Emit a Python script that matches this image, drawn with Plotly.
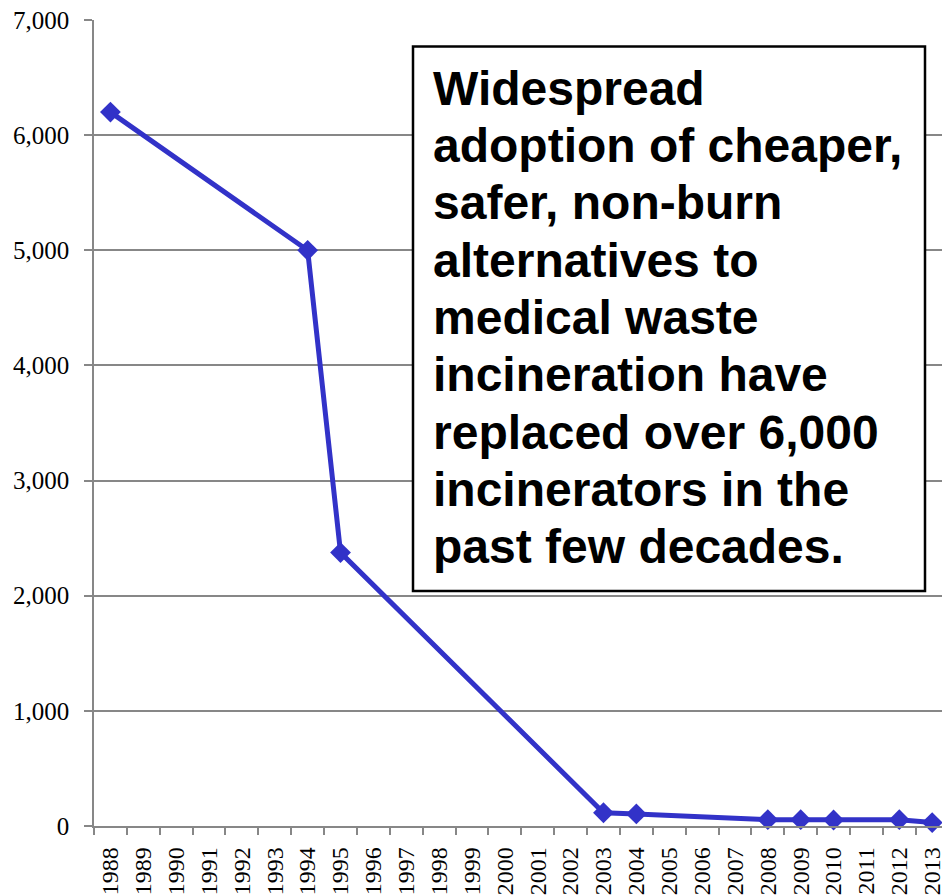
import plotly.graph_objects as go

# ---- data ----
tick_years = [str(y) for y in range(1988, 2014)]
data_years = ["1988", "1994", "1995", "2003", "2004", "2008", "2009", "2010", "2012", "2013"]
incinerators = [6200, 5000, 2375, 115, 105, 55, 55, 52, 55, 30]
y_ticks = [0, 1000, 2000, 3000, 4000, 5000, 6000, 7000]
box_lines = [
    "Widespread",
    "adoption of cheaper,",
    "safer, non-burn",
    "alternatives to",
    "medical waste",
    "incineration have",
    "replaced over 6,000",
    "incinerators in the",
    "past few decades.",
]

lookup = dict(zip(data_years, incinerators))
y_full = [lookup.get(yr) for yr in tick_years]

W, H = 942, 896
ML, MR, MT, MB = 94, 0, 20, 70
PW, PH = W - ML - MR, H - MT - MB


def px_x(px):
    return (px - ML) / PW


def px_y(py):
    return (H - MB - py) / PH


BLUE = "#3232C8"
GREY = "#878787"

fig = go.Figure()
fig.add_trace(go.Scatter(
    x=tick_years, y=y_full, mode="lines+markers", connectgaps=True,
    line=dict(color=BLUE, width=5),
    marker=dict(symbol="diamond", size=16, color=BLUE),
    cliponaxis=False, showlegend=False, hoverinfo="x+y",
))

# text box
fig.add_shape(type="rect", xref="paper", yref="paper",
              x0=px_x(413), x1=px_x(925), y0=px_y(591), y1=px_y(46.5),
              line=dict(color="black", width=2.5), fillcolor="white", layer="above")

base0, step = 105, 57.3
for i, t in enumerate(box_lines):
    baseline = base0 + step * i
    fig.add_annotation(
        text=t, xref="paper", yref="paper", x=px_x(432), y=px_y(baseline - 16.6),
        xanchor="left", yanchor="middle", showarrow=False, borderpad=0,
        font=dict(family="Liberation Sans, Arial", size=48, color="black", weight="bold"),
    )

fig.update_layout(
    width=W, height=H, margin=dict(l=ML, r=MR, t=MT, b=MB, pad=0),
    paper_bgcolor="white", plot_bgcolor="white",
    xaxis=dict(
        type="category", categoryorder="array", categoryarray=tick_years,
        range=[-0.5, -0.5 + PW / 32.87], tickangle=-90, tickson="boundaries",
        ticks="outside", ticklen=7, tickwidth=1.5, tickcolor=GREY,
        showline=True, linecolor=GREY, linewidth=1.5, showgrid=False,
        ticklabelstandoff=10, automargin=False,
        tickfont=dict(family="Liberation Serif, Times New Roman", size=24, color="black"),
    ),
    yaxis=dict(
        range=[0, 7000], tickvals=y_ticks, tickformat=",d",
        ticks="outside", ticklen=8, tickwidth=1.5, tickcolor=GREY,
        showline=True, linecolor=GREY, linewidth=1.5,
        showgrid=True, gridcolor=GREY, gridwidth=1.5, zeroline=False,
        ticklabelstandoff=10, automargin=False,
        tickfont=dict(family="Liberation Serif, Times New Roman", size=25, color="black"),
    ),
)

fig.write_html(
    "out.html",
    config={"displayModeBar": False},
    post_script="document.body.style.margin='0';document.body.style.overflow='hidden';",
)
